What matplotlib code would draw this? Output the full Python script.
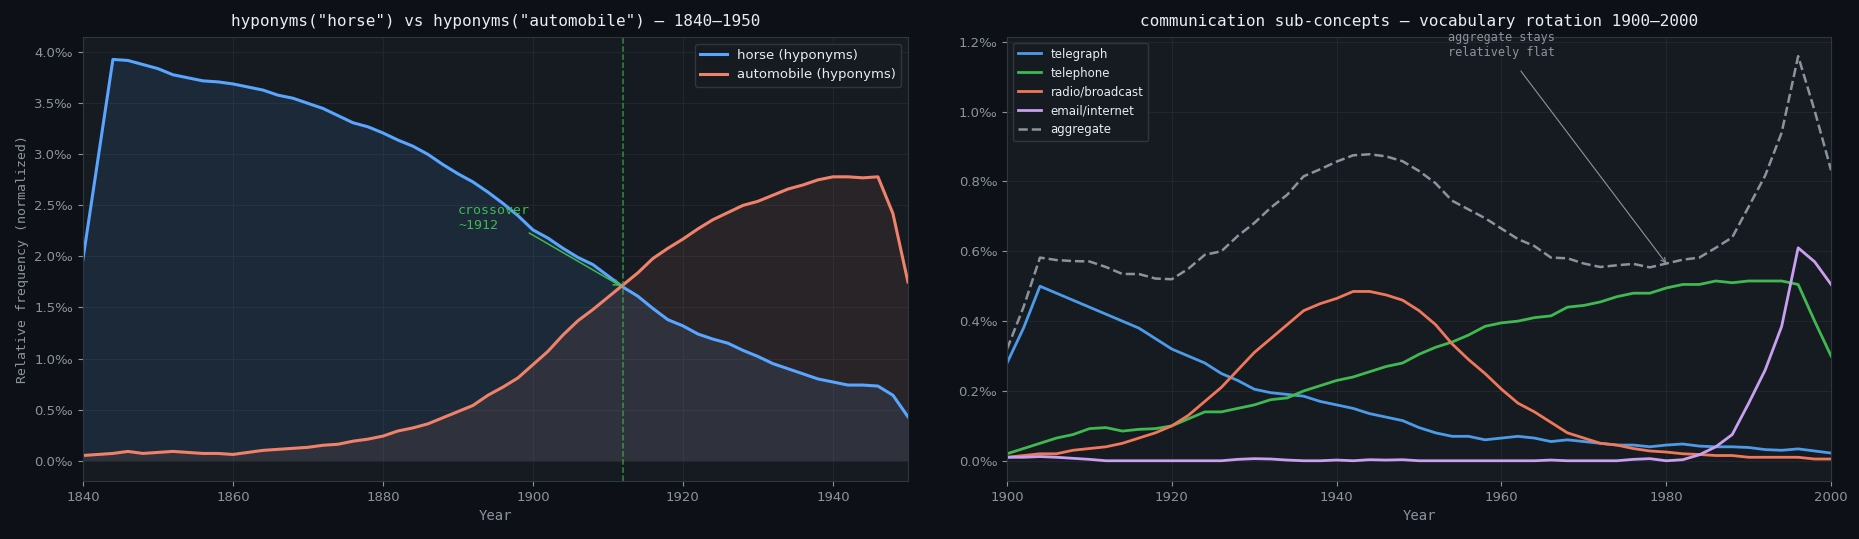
import numpy as np
import matplotlib
matplotlib.use("Agg")
import matplotlib.pyplot as plt
from matplotlib.ticker import FuncFormatter

# ---- left panel: horse vs automobile hyponyms (per mille) ----
years_l = np.arange(1840, 1951, 2)
horse = [1.97, 2.95, 3.93, 3.92, 3.88, 3.84, 3.78, 3.75, 3.72, 3.71,
         3.69, 3.66, 3.63, 3.58, 3.55, 3.50, 3.45, 3.38, 3.31, 3.27,
         3.21, 3.14, 3.08, 3.00, 2.90, 2.81, 2.73, 2.63, 2.52, 2.40,
         2.26, 2.18, 2.08, 1.99, 1.92, 1.81, 1.70, 1.61, 1.49, 1.38,
         1.32, 1.24, 1.19, 1.15, 1.08, 1.02, 0.95, 0.90, 0.85, 0.80,
         0.77, 0.74, 0.74, 0.73, 0.64, 0.43]
automobile = [0.05, 0.06, 0.07, 0.09, 0.07, 0.08, 0.09, 0.08, 0.07, 0.07,
              0.06, 0.08, 0.10, 0.11, 0.12, 0.13, 0.15, 0.16, 0.19, 0.21,
              0.24, 0.29, 0.32, 0.36, 0.42, 0.48, 0.54, 0.64, 0.72, 0.81,
              0.94, 1.07, 1.23, 1.37, 1.48, 1.60, 1.72, 1.84, 1.98, 2.08,
              2.17, 2.27, 2.36, 2.43, 2.50, 2.54, 2.60, 2.66, 2.70, 2.75,
              2.78, 2.78, 2.77, 2.78, 2.42, 1.75]
crossover_year = 1912

# ---- right panel: communication sub-concepts (per mille) ----
years_r = np.arange(1900, 2001, 2)
telegraph = [0.28, 0.38, 0.50, 0.48, 0.46, 0.44, 0.42, 0.40, 0.38, 0.35,
             0.32, 0.30, 0.28, 0.25, 0.23, 0.205, 0.195, 0.19, 0.185, 0.17,
             0.16, 0.15, 0.135, 0.125, 0.115, 0.095, 0.08, 0.07, 0.07, 0.06,
             0.065, 0.07, 0.065, 0.055, 0.06, 0.055, 0.05, 0.045, 0.045, 0.04,
             0.045, 0.048, 0.042, 0.04, 0.04, 0.038, 0.032, 0.03, 0.034, 0.028,
             0.022]
telephone = [0.02, 0.035, 0.05, 0.065, 0.075, 0.092, 0.095, 0.085, 0.09, 0.092,
             0.10, 0.12, 0.14, 0.14, 0.15, 0.16, 0.175, 0.18, 0.20, 0.215,
             0.23, 0.24, 0.255, 0.27, 0.28, 0.305, 0.325, 0.34, 0.36, 0.385,
             0.395, 0.40, 0.41, 0.415, 0.44, 0.445, 0.455, 0.47, 0.48, 0.48,
             0.495, 0.505, 0.505, 0.515, 0.51, 0.515, 0.515, 0.515, 0.505, 0.40,
             0.30]
radio = [0.01, 0.015, 0.02, 0.02, 0.03, 0.035, 0.04, 0.05, 0.065, 0.08,
         0.10, 0.13, 0.17, 0.21, 0.26, 0.31, 0.35, 0.39, 0.43, 0.45,
         0.465, 0.485, 0.485, 0.475, 0.46, 0.43, 0.39, 0.335, 0.29, 0.25,
         0.205, 0.165, 0.14, 0.11, 0.08, 0.065, 0.05, 0.045, 0.035, 0.028,
         0.025, 0.02, 0.018, 0.015, 0.015, 0.01, 0.01, 0.01, 0.01, 0.005,
         0.005]
email = [0.01, 0.01, 0.012, 0.01, 0.007, 0.004, 0.0, 0.0, 0.0, 0.0,
         0.0, 0.0, 0.0, 0.0, 0.004, 0.006, 0.005, 0.002, 0.0, 0.0,
         0.002, 0.0, 0.003, 0.002, 0.003, 0.0, 0.0, 0.0, 0.0, 0.0,
         0.0, 0.0, 0.0, 0.002, 0.0, 0.0, 0.0, 0.0, 0.004, 0.006,
         0.0, 0.003, 0.017, 0.04, 0.075, 0.165, 0.26, 0.385, 0.61, 0.57,
         0.505]
aggregate = np.array(telegraph) + np.array(telephone) + np.array(radio) + np.array(email)

BG = '#0d1117'
AX = '#161b22'
GRID = '#21262d'
TXT = '#e6edf3'
MUTED = '#8b949e'
MONO = 'DejaVu Sans Mono'

plt.rcParams['font.family'] = ['DejaVu Sans']

fig = plt.figure(figsize=(18.59, 5.39), dpi=100, facecolor=BG)
ax1 = fig.add_axes([0.0446, 0.1076, 0.4438, 0.8238])
ax2 = fig.add_axes([0.5417, 0.1076, 0.4433, 0.8238])

permille = FuncFormatter(lambda v, p: f'{v:.1f}\u2030')

for ax in (ax1, ax2):
    ax.set_facecolor(AX)
    for s in ax.spines.values():
        s.set_color('#30363d')
    ax.tick_params(colors=MUTED, labelsize=9.5)
    ax.grid(True, color=GRID, linewidth=0.8)
    ax.set_axisbelow(True)
    ax.yaxis.set_major_formatter(permille)
    ax.set_xlabel('Year', color=MUTED, fontsize=10, family=MONO)

# left
ax1.fill_between(years_l, horse, 0, color='#58a6ff', alpha=0.1, linewidth=0)
ax1.fill_between(years_l, automobile, 0, color='#f0826a', alpha=0.09, linewidth=0)
ax1.plot(years_l, horse, color='#58a6ff', lw=2.2, label='horse (hyponyms)')
ax1.plot(years_l, automobile, color='#f0826a', lw=2.2, label='automobile (hyponyms)')
ax1.axvline(crossover_year, color='#3fb950', lw=1.1, ls='--', alpha=0.7)
ax1.text(1890, 2.38, 'crossover\n~1912', color='#3fb950', fontsize=9.5,
         family=MONO, va='center', ha='left')
ax1.annotate('', xy=(crossover_year - 0.3, 1.71), xytext=(1899.5, 2.23),
             arrowprops=dict(arrowstyle='->', color='#3fb950', lw=1.1,
                             shrinkA=0, shrinkB=0))
ax1.set_xlim(1840, 1950)
ax1.set_ylim(-0.2, 4.15)
ax1.set_xticks(range(1840, 1941, 20))
ax1.set_ylabel('Relative frequency (normalized)', color=MUTED, fontsize=9.5, family=MONO)
ax1.set_title('hyponyms("horse") vs hyponyms("automobile") \u2014 1840\u20131950',
              color=TXT, fontsize=11.5, family=MONO, pad=8)
ax1.legend(loc='upper right', fontsize=9.5, facecolor=AX, edgecolor='#30363d',
           labelcolor=TXT, framealpha=1)

# right
ax2.plot(years_r, telegraph, color='#4c9be8', lw=2, label='telegraph')
ax2.plot(years_r, telephone, color='#3fb950', lw=2, label='telephone')
ax2.plot(years_r, radio, color='#f0785a', lw=2, label='radio/broadcast')
ax2.plot(years_r, email, color='#c9a0f0', lw=2, label='email/internet')
ax2.plot(years_r, aggregate, color=MUTED, lw=1.8, ls='--', label='aggregate')
ax2.annotate('aggregate stays\nrelatively flat', xy=(1980, 0.565), xytext=(1960, 1.19),
             color=MUTED, fontsize=8.5, family=MONO, ha='center', va='center',
             arrowprops=dict(arrowstyle='->', color=MUTED, lw=0.8, shrinkA=8, shrinkB=0))
ax2.set_xlim(1900, 2000)
ax2.set_ylim(-0.058, 1.214)
ax2.set_xticks(range(1900, 2001, 20))
ax2.set_yticks(np.arange(0, 1.21, 0.2))
ax2.set_title('communication sub-concepts \u2014 vocabulary rotation 1900\u20132000',
              color=TXT, fontsize=11.5, family=MONO, pad=8)
ax2.legend(loc='upper left', fontsize=8.5, facecolor=AX, edgecolor='#30363d',
           labelcolor=TXT, framealpha=1)

fig.savefig('out.png', dpi=100, facecolor=BG)
